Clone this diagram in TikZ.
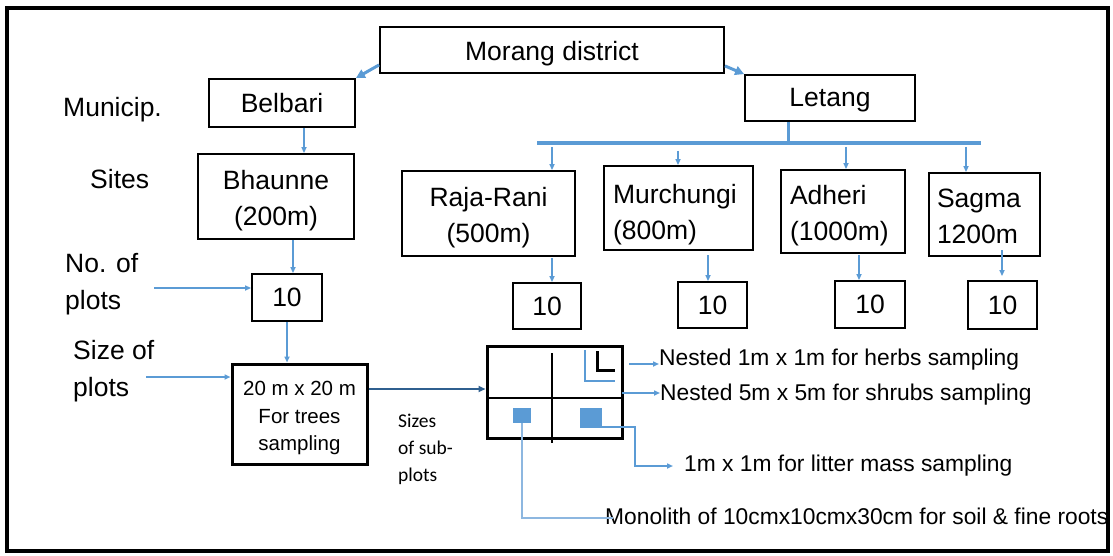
\documentclass[tikz,border=0pt]{standalone}
\usepackage{fontspec}
\setmainfont{Liberation Sans}
\newfontfamily\calibrifont{Carlito}
\usetikzlibrary{arrows.meta,calc}
\definecolor{lineblue}{HTML}{5B9BD5}
\definecolor{darkblue}{HTML}{2F5F8F}
\definecolor{paleblue}{HTML}{8DB7E0}

\begin{document}
\begin{tikzpicture}[x=1pt,y=-1pt,
  box/.style={draw=black, line width=1.8pt, rectangle, inner sep=0pt,
    font=\fontsize{26.5}{36}\selectfont, align=center},
  leftbox/.style={box, align=left, inner xsep=9pt},
  midbox/.style={box, align=flush center, inner xsep=9pt},
  numbox/.style={box, minimum width=69pt, minimum height=47pt},
  thickbox/.style={draw=black, line width=3pt, rectangle, inner sep=0pt},
  topgap/.style={execute at begin node={\rule{0pt}{#1}}},
  lbl/.style={inner sep=0pt, anchor=west, align=left, font=\fontsize{26.5}{37}\selectfont},
  note/.style={inner sep=0pt, anchor=west, font=\fontsize{22.8}{27}\selectfont},
  subnote/.style={inner sep=0pt, anchor=west, align=left, font=\calibrifont\fontsize{19.5}{27}\selectfont},
  link/.style={draw=lineblue, line width=1.6pt, -{Triangle[length=6pt,width=5pt]}},
  bigarrow/.style={draw=lineblue, line width=3pt, -{Triangle[length=9pt,width=9pt]}},
  darklink/.style={draw=darkblue, line width=2pt, -{Triangle[length=7pt,width=6pt]}},
  square/.style={fill=lineblue, draw=none, inner sep=0pt, rectangle}
]
\useasboundingbox (0,0) rectangle (1113,556);

% outer frame
\draw[line width=3.5pt] (7,8) rectangle (1108,551);

% hierarchy boxes
\node[box, topgap=27.5pt, minimum width=344pt, minimum height=46pt] (morang) at (552,50) {Morang district};
\node[box, minimum width=146pt, minimum height=48pt] (belbari) at (282,103) {Belbari};
\node[box, topgap=23.5pt, minimum width=170pt, minimum height=46pt] (letang) at (830,98) {Letang};
\node[midbox, topgap=26.5pt, text width=138pt, minimum height=85pt] (bhaunne) at (276,196.5) {Bhaunne\\(200m)};
\node[midbox, topgap=26.5pt, text width=155pt, minimum height=85pt] (raja) at (488.5,213.5) {Raja-Rani\\(500m)};
\node[leftbox, topgap=31.5pt, text width=131pt, minimum height=84pt] (murch) at (678.5,208) {Murchungi\\(800m)};
\node[leftbox, topgap=27.5pt, text width=106pt, minimum height=83pt] (adheri) at (843,211.5) {Adheri\\(1000m)};
\node[leftbox, topgap=22.5pt, inner xsep=8pt, text width=95pt, minimum height=83pt] (sagma) at (984.5,214.5) {Sagma\\1200m};

% number of plots
\node[numbox, minimum width=70pt] (n0) at (287,297.5) {10};
\node[numbox, minimum width=68pt, minimum height=46pt] (n1) at (547,306) {10};
\node[numbox, minimum height=46pt] (n2) at (712.5,305) {10};
\node[numbox, minimum width=70pt] (n3) at (870,304.5) {10};
\node[numbox, minimum height=48pt] (n4) at (1002.5,305) {10};

% plot and sub-plot layout
\node[thickbox, text width=129pt, inner xsep=3pt, minimum height=100pt, align=flush center,
  font=\fontsize{20.5}{27.5}\selectfont] (plot20) at (299.5,414)
  {\rule{0pt}{23pt}20 m x 20 m\\For trees\\sampling};
\node[thickbox, minimum width=135pt, minimum height=92pt] (grid) at (554.5,392) {};

% row labels
\node[lbl] (municip) at (63,110) {Municip.};
\node[lbl] (sites) at (90,179) {Sites};
\node[lbl] (noplots) at (65,284) {No. of\\plots};
\node[lbl] (sizeplots) at (73,371) {Size of\\plots};
\node[subnote] (subs) at (398,449) {Sizes\\of sub-\\plots};

% sub-plot descriptions
\node[note] (herbs) at (659,360) {Nested 1m x 1m for herbs sampling};
\node[note] (shrubs) at (660,395) {Nested 5m x 5m for shrubs sampling};
\node[note] (litter) at (684,466) {1m x 1m for litter mass sampling};
\node[note] (mono) at (605,516) {Monolith of 10cmx10cmx30cm for soil \& fine roots};

% district to municipalities
\draw[bigarrow] ($(morang.south west)+(0,-9)$) -- (belbari.north east);
\draw[bigarrow] ($(morang.south east)+(0,-8)$) -- (letang.north west);

% Belbari branch
\coordinate (b1) at (304,0);
\draw[link] (belbari.south -| b1) -- (bhaunne.north -| b1);
\coordinate (b2) at (293,0);
\draw[link] (bhaunne.south -| b2) -- (n0.north -| b2);
\draw[link] (n0.south) -- (n0.south |- plot20.north);
\coordinate (np) at (154,288);
\draw[link] (np) -- (np -| n0.west);
\coordinate (sp) at (146,377);
\draw[link] (sp) -- (sp -| plot20.west);
\coordinate (gp) at (368,389);
\draw[darklink] (plot20.east |- gp) -- (grid.west |- gp);

% Letang branch: bus bar and sites
\coordinate (busL) at (537,143);
\coordinate (busR) at (981,143);
\coordinate (tap) at (788,143);
\draw[lineblue, line width=3pt] (letang.south -| tap) -- (tap);
\draw[lineblue, line width=3.5pt] (busL) -- (busR);
\coordinate (rA) at (552,147);
\coordinate (mA) at (678,151);
\coordinate (aA) at (846,147);
\coordinate (sA) at (966,147);
\draw[link] (rA) -- (rA |- raja.north);
\draw[link] (mA) -- (mA |- murch.north);
\draw[link] (aA) -- (aA |- adheri.north);
\draw[link] (sA) -- (sA |- sagma.north);

% sites to number of plots
\coordinate (r1) at (552,258);
\coordinate (m1) at (708,255);
\coordinate (a1) at (859,255);
\coordinate (s1) at (1002,250);
\draw[link] (r1) -- (r1 |- n1.north);
\draw[link] (m1) -- (m1 |- n2.north);
\draw[link] (a1) -- (a1 |- n3.north);
\draw[link] (s1) -- ($(s1 |- n4.north)+(0,-4)$);

% inner divisions of the plot
\draw[line width=2pt] (487,398) -- (622,398);
\draw[line width=2pt] (552,353) -- (552,443);
\draw[line width=3pt] (597,351) -- (597,370) -- (615,370);
\draw[lineblue, line width=2.5pt] (585,350) -- (585,381) -- (615,381);
\node[square, minimum width=18pt, minimum height=15pt] (sqL) at (522,415.5) {};
\node[square, minimum width=22pt, minimum height=20pt] (sqR) at (591,418) {};

% sub-plot connectors
\coordinate (hA) at (629,364);
\draw[link] (hA) -- (hA -| herbs.west);
\coordinate (shA) at (622,393);
\draw[link] (shA) -- (shA -| shrubs.west);
\draw[link] ($(sqR.south east)+(0,-1)$) -- ++(33,0) |- ($(litter.west)+(-11,0)$);
\draw[paleblue, line width=1.2pt] (sqL.south) |- ($(mono.west)+(8,2)$);
\end{tikzpicture}
\end{document}
